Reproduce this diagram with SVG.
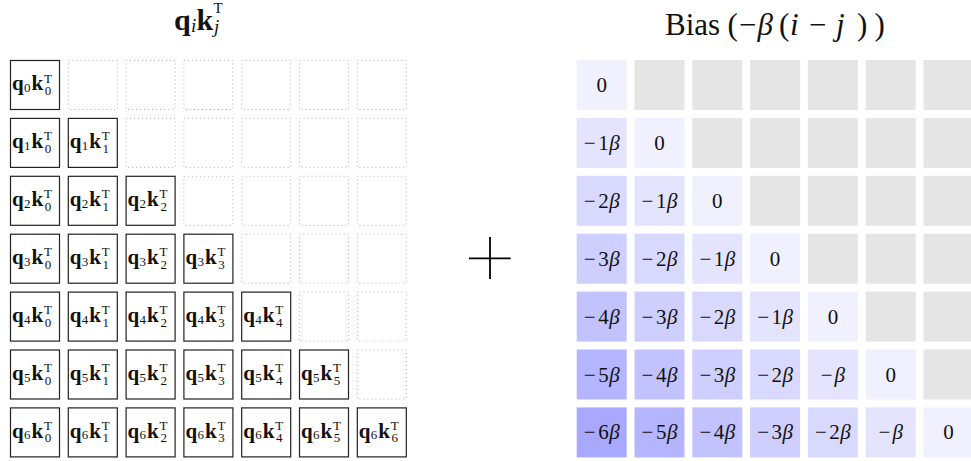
<svg xmlns="http://www.w3.org/2000/svg" width="971" height="461" viewBox="0 0 971 461">
<style>
.solid{fill:#fff;stroke:#222;stroke-width:1.2}
.dot{fill:none;stroke:#b0b0b0;stroke-width:1;stroke-dasharray:1 3}
.qk{font-family:"Liberation Serif",serif;font-weight:bold;font-size:21px;fill:#111}
.sm{font-weight:normal;font-size:13px}
.bt{font-family:"Liberation Serif",serif;font-size:21px;text-anchor:middle;fill:#111}
.it{font-style:italic}
.ttl{font-family:"Liberation Serif",serif;fill:#111}
.g{fill:#e5e5e5}
.c0{fill:#f0f0ff}.c1{fill:#e4e4ff}.c2{fill:#d9d9ff}.c3{fill:#ceceff}.c4{fill:#c2c2ff}.c5{fill:#b5b5ff}.c6{fill:#a8a8ff}
</style>
<g id="title-left">
<text class="ttl"><tspan x="174" y="29.5" font-size="30" font-weight="bold">q</tspan><tspan x="191" y="32" font-size="19" font-style="italic">i</tspan><tspan x="196.5" y="29.5" font-size="30" font-weight="bold">k</tspan><tspan x="213.5" y="13" font-size="15">T</tspan><tspan x="214" y="32.5" font-size="19" font-style="italic">j</tspan></text>
</g>
<g id="title-right">
<text class="ttl" font-size="31"><tspan x="665" y="35">Bias</tspan><tspan x="727.5" y="35">(</tspan><tspan x="739" y="35">−</tspan><tspan x="757.5" y="35" font-style="italic">β</tspan><tspan x="779" y="35">(</tspan><tspan x="790" y="35" font-style="italic">i</tspan><tspan x="809" y="35">−</tspan><tspan x="836" y="35" font-style="italic">j</tspan><tspan x="857" y="35">)</tspan><tspan x="874.5" y="35">)</tspan></text>
</g>
<g id="plus">
<line x1="469" y1="258.3" x2="510.7" y2="258.3" stroke="#000" stroke-width="1.8"/>
<line x1="490" y1="237" x2="490" y2="279" stroke="#000" stroke-width="1.8"/>
</g>
<g id="left-grid">
<g id="qk-0-0" transform="translate(10,60)"><rect class="solid" x="0.5" y="0.5" width="49" height="49"/><text class="qk"><tspan x="2" y="30.3">q</tspan><tspan class="sm" x="14" y="32">0</tspan><tspan x="21.5" y="30.3">k</tspan><tspan class="sm" x="34" y="22.5">T</tspan><tspan class="sm" x="34.8" y="35">0</tspan></text></g>
<g id="qk-0-1" transform="translate(67.8,60)"><rect class="dot" x="0.5" y="0.5" width="49" height="49"/></g>
<g id="qk-0-2" transform="translate(125.6,60)"><rect class="dot" x="0.5" y="0.5" width="49" height="49"/></g>
<g id="qk-0-3" transform="translate(183.4,60)"><rect class="dot" x="0.5" y="0.5" width="49" height="49"/></g>
<g id="qk-0-4" transform="translate(241.2,60)"><rect class="dot" x="0.5" y="0.5" width="49" height="49"/></g>
<g id="qk-0-5" transform="translate(299,60)"><rect class="dot" x="0.5" y="0.5" width="49" height="49"/></g>
<g id="qk-0-6" transform="translate(356.8,60)"><rect class="dot" x="0.5" y="0.5" width="49" height="49"/></g>

<g id="qk-1-0" transform="translate(10,117.9)"><rect class="solid" x="0.5" y="0.5" width="49" height="49"/><text class="qk"><tspan x="2" y="30.3">q</tspan><tspan class="sm" x="14" y="32">1</tspan><tspan x="21.5" y="30.3">k</tspan><tspan class="sm" x="34" y="22.5">T</tspan><tspan class="sm" x="34.8" y="35">0</tspan></text></g>
<g id="qk-1-1" transform="translate(67.8,117.9)"><rect class="solid" x="0.5" y="0.5" width="49" height="49"/><text class="qk"><tspan x="2" y="30.3">q</tspan><tspan class="sm" x="14" y="32">1</tspan><tspan x="21.5" y="30.3">k</tspan><tspan class="sm" x="34" y="22.5">T</tspan><tspan class="sm" x="34.8" y="35">1</tspan></text></g>
<g id="qk-1-2" transform="translate(125.6,117.9)"><rect class="dot" x="0.5" y="0.5" width="49" height="49"/></g>
<g id="qk-1-3" transform="translate(183.4,117.9)"><rect class="dot" x="0.5" y="0.5" width="49" height="49"/></g>
<g id="qk-1-4" transform="translate(241.2,117.9)"><rect class="dot" x="0.5" y="0.5" width="49" height="49"/></g>
<g id="qk-1-5" transform="translate(299,117.9)"><rect class="dot" x="0.5" y="0.5" width="49" height="49"/></g>
<g id="qk-1-6" transform="translate(356.8,117.9)"><rect class="dot" x="0.5" y="0.5" width="49" height="49"/></g>

<g id="qk-2-0" transform="translate(10,175.8)"><rect class="solid" x="0.5" y="0.5" width="49" height="49"/><text class="qk"><tspan x="2" y="30.3">q</tspan><tspan class="sm" x="14" y="32">2</tspan><tspan x="21.5" y="30.3">k</tspan><tspan class="sm" x="34" y="22.5">T</tspan><tspan class="sm" x="34.8" y="35">0</tspan></text></g>
<g id="qk-2-1" transform="translate(67.8,175.8)"><rect class="solid" x="0.5" y="0.5" width="49" height="49"/><text class="qk"><tspan x="2" y="30.3">q</tspan><tspan class="sm" x="14" y="32">2</tspan><tspan x="21.5" y="30.3">k</tspan><tspan class="sm" x="34" y="22.5">T</tspan><tspan class="sm" x="34.8" y="35">1</tspan></text></g>
<g id="qk-2-2" transform="translate(125.6,175.8)"><rect class="solid" x="0.5" y="0.5" width="49" height="49"/><text class="qk"><tspan x="2" y="30.3">q</tspan><tspan class="sm" x="14" y="32">2</tspan><tspan x="21.5" y="30.3">k</tspan><tspan class="sm" x="34" y="22.5">T</tspan><tspan class="sm" x="34.8" y="35">2</tspan></text></g>
<g id="qk-2-3" transform="translate(183.4,175.8)"><rect class="dot" x="0.5" y="0.5" width="49" height="49"/></g>
<g id="qk-2-4" transform="translate(241.2,175.8)"><rect class="dot" x="0.5" y="0.5" width="49" height="49"/></g>
<g id="qk-2-5" transform="translate(299,175.8)"><rect class="dot" x="0.5" y="0.5" width="49" height="49"/></g>
<g id="qk-2-6" transform="translate(356.8,175.8)"><rect class="dot" x="0.5" y="0.5" width="49" height="49"/></g>

<g id="qk-3-0" transform="translate(10,233.7)"><rect class="solid" x="0.5" y="0.5" width="49" height="49"/><text class="qk"><tspan x="2" y="30.3">q</tspan><tspan class="sm" x="14" y="32">3</tspan><tspan x="21.5" y="30.3">k</tspan><tspan class="sm" x="34" y="22.5">T</tspan><tspan class="sm" x="34.8" y="35">0</tspan></text></g>
<g id="qk-3-1" transform="translate(67.8,233.7)"><rect class="solid" x="0.5" y="0.5" width="49" height="49"/><text class="qk"><tspan x="2" y="30.3">q</tspan><tspan class="sm" x="14" y="32">3</tspan><tspan x="21.5" y="30.3">k</tspan><tspan class="sm" x="34" y="22.5">T</tspan><tspan class="sm" x="34.8" y="35">1</tspan></text></g>
<g id="qk-3-2" transform="translate(125.6,233.7)"><rect class="solid" x="0.5" y="0.5" width="49" height="49"/><text class="qk"><tspan x="2" y="30.3">q</tspan><tspan class="sm" x="14" y="32">3</tspan><tspan x="21.5" y="30.3">k</tspan><tspan class="sm" x="34" y="22.5">T</tspan><tspan class="sm" x="34.8" y="35">2</tspan></text></g>
<g id="qk-3-3" transform="translate(183.4,233.7)"><rect class="solid" x="0.5" y="0.5" width="49" height="49"/><text class="qk"><tspan x="2" y="30.3">q</tspan><tspan class="sm" x="14" y="32">3</tspan><tspan x="21.5" y="30.3">k</tspan><tspan class="sm" x="34" y="22.5">T</tspan><tspan class="sm" x="34.8" y="35">3</tspan></text></g>
<g id="qk-3-4" transform="translate(241.2,233.7)"><rect class="dot" x="0.5" y="0.5" width="49" height="49"/></g>
<g id="qk-3-5" transform="translate(299,233.7)"><rect class="dot" x="0.5" y="0.5" width="49" height="49"/></g>
<g id="qk-3-6" transform="translate(356.8,233.7)"><rect class="dot" x="0.5" y="0.5" width="49" height="49"/></g>

<g id="qk-4-0" transform="translate(10,291.6)"><rect class="solid" x="0.5" y="0.5" width="49" height="49"/><text class="qk"><tspan x="2" y="30.3">q</tspan><tspan class="sm" x="14" y="32">4</tspan><tspan x="21.5" y="30.3">k</tspan><tspan class="sm" x="34" y="22.5">T</tspan><tspan class="sm" x="34.8" y="35">0</tspan></text></g>
<g id="qk-4-1" transform="translate(67.8,291.6)"><rect class="solid" x="0.5" y="0.5" width="49" height="49"/><text class="qk"><tspan x="2" y="30.3">q</tspan><tspan class="sm" x="14" y="32">4</tspan><tspan x="21.5" y="30.3">k</tspan><tspan class="sm" x="34" y="22.5">T</tspan><tspan class="sm" x="34.8" y="35">1</tspan></text></g>
<g id="qk-4-2" transform="translate(125.6,291.6)"><rect class="solid" x="0.5" y="0.5" width="49" height="49"/><text class="qk"><tspan x="2" y="30.3">q</tspan><tspan class="sm" x="14" y="32">4</tspan><tspan x="21.5" y="30.3">k</tspan><tspan class="sm" x="34" y="22.5">T</tspan><tspan class="sm" x="34.8" y="35">2</tspan></text></g>
<g id="qk-4-3" transform="translate(183.4,291.6)"><rect class="solid" x="0.5" y="0.5" width="49" height="49"/><text class="qk"><tspan x="2" y="30.3">q</tspan><tspan class="sm" x="14" y="32">4</tspan><tspan x="21.5" y="30.3">k</tspan><tspan class="sm" x="34" y="22.5">T</tspan><tspan class="sm" x="34.8" y="35">3</tspan></text></g>
<g id="qk-4-4" transform="translate(241.2,291.6)"><rect class="solid" x="0.5" y="0.5" width="49" height="49"/><text class="qk"><tspan x="2" y="30.3">q</tspan><tspan class="sm" x="14" y="32">4</tspan><tspan x="21.5" y="30.3">k</tspan><tspan class="sm" x="34" y="22.5">T</tspan><tspan class="sm" x="34.8" y="35">4</tspan></text></g>
<g id="qk-4-5" transform="translate(299,291.6)"><rect class="dot" x="0.5" y="0.5" width="49" height="49"/></g>
<g id="qk-4-6" transform="translate(356.8,291.6)"><rect class="dot" x="0.5" y="0.5" width="49" height="49"/></g>

<g id="qk-5-0" transform="translate(10,349.5)"><rect class="solid" x="0.5" y="0.5" width="49" height="49"/><text class="qk"><tspan x="2" y="30.3">q</tspan><tspan class="sm" x="14" y="32">5</tspan><tspan x="21.5" y="30.3">k</tspan><tspan class="sm" x="34" y="22.5">T</tspan><tspan class="sm" x="34.8" y="35">0</tspan></text></g>
<g id="qk-5-1" transform="translate(67.8,349.5)"><rect class="solid" x="0.5" y="0.5" width="49" height="49"/><text class="qk"><tspan x="2" y="30.3">q</tspan><tspan class="sm" x="14" y="32">5</tspan><tspan x="21.5" y="30.3">k</tspan><tspan class="sm" x="34" y="22.5">T</tspan><tspan class="sm" x="34.8" y="35">1</tspan></text></g>
<g id="qk-5-2" transform="translate(125.6,349.5)"><rect class="solid" x="0.5" y="0.5" width="49" height="49"/><text class="qk"><tspan x="2" y="30.3">q</tspan><tspan class="sm" x="14" y="32">5</tspan><tspan x="21.5" y="30.3">k</tspan><tspan class="sm" x="34" y="22.5">T</tspan><tspan class="sm" x="34.8" y="35">2</tspan></text></g>
<g id="qk-5-3" transform="translate(183.4,349.5)"><rect class="solid" x="0.5" y="0.5" width="49" height="49"/><text class="qk"><tspan x="2" y="30.3">q</tspan><tspan class="sm" x="14" y="32">5</tspan><tspan x="21.5" y="30.3">k</tspan><tspan class="sm" x="34" y="22.5">T</tspan><tspan class="sm" x="34.8" y="35">3</tspan></text></g>
<g id="qk-5-4" transform="translate(241.2,349.5)"><rect class="solid" x="0.5" y="0.5" width="49" height="49"/><text class="qk"><tspan x="2" y="30.3">q</tspan><tspan class="sm" x="14" y="32">5</tspan><tspan x="21.5" y="30.3">k</tspan><tspan class="sm" x="34" y="22.5">T</tspan><tspan class="sm" x="34.8" y="35">4</tspan></text></g>
<g id="qk-5-5" transform="translate(299,349.5)"><rect class="solid" x="0.5" y="0.5" width="49" height="49"/><text class="qk"><tspan x="2" y="30.3">q</tspan><tspan class="sm" x="14" y="32">5</tspan><tspan x="21.5" y="30.3">k</tspan><tspan class="sm" x="34" y="22.5">T</tspan><tspan class="sm" x="34.8" y="35">5</tspan></text></g>
<g id="qk-5-6" transform="translate(356.8,349.5)"><rect class="dot" x="0.5" y="0.5" width="49" height="49"/></g>

<g id="qk-6-0" transform="translate(10,407.4)"><rect class="solid" x="0.5" y="0.5" width="49" height="49"/><text class="qk"><tspan x="2" y="30.3">q</tspan><tspan class="sm" x="14" y="32">6</tspan><tspan x="21.5" y="30.3">k</tspan><tspan class="sm" x="34" y="22.5">T</tspan><tspan class="sm" x="34.8" y="35">0</tspan></text></g>
<g id="qk-6-1" transform="translate(67.8,407.4)"><rect class="solid" x="0.5" y="0.5" width="49" height="49"/><text class="qk"><tspan x="2" y="30.3">q</tspan><tspan class="sm" x="14" y="32">6</tspan><tspan x="21.5" y="30.3">k</tspan><tspan class="sm" x="34" y="22.5">T</tspan><tspan class="sm" x="34.8" y="35">1</tspan></text></g>
<g id="qk-6-2" transform="translate(125.6,407.4)"><rect class="solid" x="0.5" y="0.5" width="49" height="49"/><text class="qk"><tspan x="2" y="30.3">q</tspan><tspan class="sm" x="14" y="32">6</tspan><tspan x="21.5" y="30.3">k</tspan><tspan class="sm" x="34" y="22.5">T</tspan><tspan class="sm" x="34.8" y="35">2</tspan></text></g>
<g id="qk-6-3" transform="translate(183.4,407.4)"><rect class="solid" x="0.5" y="0.5" width="49" height="49"/><text class="qk"><tspan x="2" y="30.3">q</tspan><tspan class="sm" x="14" y="32">6</tspan><tspan x="21.5" y="30.3">k</tspan><tspan class="sm" x="34" y="22.5">T</tspan><tspan class="sm" x="34.8" y="35">3</tspan></text></g>
<g id="qk-6-4" transform="translate(241.2,407.4)"><rect class="solid" x="0.5" y="0.5" width="49" height="49"/><text class="qk"><tspan x="2" y="30.3">q</tspan><tspan class="sm" x="14" y="32">6</tspan><tspan x="21.5" y="30.3">k</tspan><tspan class="sm" x="34" y="22.5">T</tspan><tspan class="sm" x="34.8" y="35">4</tspan></text></g>
<g id="qk-6-5" transform="translate(299,407.4)"><rect class="solid" x="0.5" y="0.5" width="49" height="49"/><text class="qk"><tspan x="2" y="30.3">q</tspan><tspan class="sm" x="14" y="32">6</tspan><tspan x="21.5" y="30.3">k</tspan><tspan class="sm" x="34" y="22.5">T</tspan><tspan class="sm" x="34.8" y="35">5</tspan></text></g>
<g id="qk-6-6" transform="translate(356.8,407.4)"><rect class="solid" x="0.5" y="0.5" width="49" height="49"/><text class="qk"><tspan x="2" y="30.3">q</tspan><tspan class="sm" x="14" y="32">6</tspan><tspan x="21.5" y="30.3">k</tspan><tspan class="sm" x="34" y="22.5">T</tspan><tspan class="sm" x="34.8" y="35">6</tspan></text></g>
</g>

<g id="right-grid">
<g id="b-0-0" transform="translate(576.7,60)"><rect class="c0" width="50" height="50"/><text class="bt" x="25" y="32">0</text></g>
<g id="b-0-1" transform="translate(634.5,60)"><rect class="g" width="50" height="50"/></g>
<g id="b-0-2" transform="translate(692.3,60)"><rect class="g" width="50" height="50"/></g>
<g id="b-0-3" transform="translate(750.1,60)"><rect class="g" width="50" height="50"/></g>
<g id="b-0-4" transform="translate(807.9,60)"><rect class="g" width="50" height="50"/></g>
<g id="b-0-5" transform="translate(865.7,60)"><rect class="g" width="50" height="50"/></g>
<g id="b-0-6" transform="translate(923.5,60)"><rect class="g" width="50" height="50"/></g>

<g id="b-1-0" transform="translate(576.7,117.9)"><rect class="c1" width="50" height="50"/><text class="bt" x="25" y="32">−<tspan dx="2.5">1</tspan><tspan class="it" dx="0.5">β</tspan></text></g>
<g id="b-1-1" transform="translate(634.5,117.9)"><rect class="c0" width="50" height="50"/><text class="bt" x="25" y="32">0</text></g>
<g id="b-1-2" transform="translate(692.3,117.9)"><rect class="g" width="50" height="50"/></g>
<g id="b-1-3" transform="translate(750.1,117.9)"><rect class="g" width="50" height="50"/></g>
<g id="b-1-4" transform="translate(807.9,117.9)"><rect class="g" width="50" height="50"/></g>
<g id="b-1-5" transform="translate(865.7,117.9)"><rect class="g" width="50" height="50"/></g>
<g id="b-1-6" transform="translate(923.5,117.9)"><rect class="g" width="50" height="50"/></g>

<g id="b-2-0" transform="translate(576.7,175.8)"><rect class="c2" width="50" height="50"/><text class="bt" x="25" y="32">−<tspan dx="2.5">2</tspan><tspan class="it" dx="0.5">β</tspan></text></g>
<g id="b-2-1" transform="translate(634.5,175.8)"><rect class="c1" width="50" height="50"/><text class="bt" x="25" y="32">−<tspan dx="2.5">1</tspan><tspan class="it" dx="0.5">β</tspan></text></g>
<g id="b-2-2" transform="translate(692.3,175.8)"><rect class="c0" width="50" height="50"/><text class="bt" x="25" y="32">0</text></g>
<g id="b-2-3" transform="translate(750.1,175.8)"><rect class="g" width="50" height="50"/></g>
<g id="b-2-4" transform="translate(807.9,175.8)"><rect class="g" width="50" height="50"/></g>
<g id="b-2-5" transform="translate(865.7,175.8)"><rect class="g" width="50" height="50"/></g>
<g id="b-2-6" transform="translate(923.5,175.8)"><rect class="g" width="50" height="50"/></g>

<g id="b-3-0" transform="translate(576.7,233.7)"><rect class="c3" width="50" height="50"/><text class="bt" x="25" y="32">−<tspan dx="2.5">3</tspan><tspan class="it" dx="0.5">β</tspan></text></g>
<g id="b-3-1" transform="translate(634.5,233.7)"><rect class="c2" width="50" height="50"/><text class="bt" x="25" y="32">−<tspan dx="2.5">2</tspan><tspan class="it" dx="0.5">β</tspan></text></g>
<g id="b-3-2" transform="translate(692.3,233.7)"><rect class="c1" width="50" height="50"/><text class="bt" x="25" y="32">−<tspan dx="2.5">1</tspan><tspan class="it" dx="0.5">β</tspan></text></g>
<g id="b-3-3" transform="translate(750.1,233.7)"><rect class="c0" width="50" height="50"/><text class="bt" x="25" y="32">0</text></g>
<g id="b-3-4" transform="translate(807.9,233.7)"><rect class="g" width="50" height="50"/></g>
<g id="b-3-5" transform="translate(865.7,233.7)"><rect class="g" width="50" height="50"/></g>
<g id="b-3-6" transform="translate(923.5,233.7)"><rect class="g" width="50" height="50"/></g>

<g id="b-4-0" transform="translate(576.7,291.6)"><rect class="c4" width="50" height="50"/><text class="bt" x="25" y="32">−<tspan dx="2.5">4</tspan><tspan class="it" dx="0.5">β</tspan></text></g>
<g id="b-4-1" transform="translate(634.5,291.6)"><rect class="c3" width="50" height="50"/><text class="bt" x="25" y="32">−<tspan dx="2.5">3</tspan><tspan class="it" dx="0.5">β</tspan></text></g>
<g id="b-4-2" transform="translate(692.3,291.6)"><rect class="c2" width="50" height="50"/><text class="bt" x="25" y="32">−<tspan dx="2.5">2</tspan><tspan class="it" dx="0.5">β</tspan></text></g>
<g id="b-4-3" transform="translate(750.1,291.6)"><rect class="c1" width="50" height="50"/><text class="bt" x="25" y="32">−<tspan dx="2.5">1</tspan><tspan class="it" dx="0.5">β</tspan></text></g>
<g id="b-4-4" transform="translate(807.9,291.6)"><rect class="c0" width="50" height="50"/><text class="bt" x="25" y="32">0</text></g>
<g id="b-4-5" transform="translate(865.7,291.6)"><rect class="g" width="50" height="50"/></g>
<g id="b-4-6" transform="translate(923.5,291.6)"><rect class="g" width="50" height="50"/></g>

<g id="b-5-0" transform="translate(576.7,349.5)"><rect class="c5" width="50" height="50"/><text class="bt" x="25" y="32">−<tspan dx="2.5">5</tspan><tspan class="it" dx="0.5">β</tspan></text></g>
<g id="b-5-1" transform="translate(634.5,349.5)"><rect class="c4" width="50" height="50"/><text class="bt" x="25" y="32">−<tspan dx="2.5">4</tspan><tspan class="it" dx="0.5">β</tspan></text></g>
<g id="b-5-2" transform="translate(692.3,349.5)"><rect class="c3" width="50" height="50"/><text class="bt" x="25" y="32">−<tspan dx="2.5">3</tspan><tspan class="it" dx="0.5">β</tspan></text></g>
<g id="b-5-3" transform="translate(750.1,349.5)"><rect class="c2" width="50" height="50"/><text class="bt" x="25" y="32">−<tspan dx="2.5">2</tspan><tspan class="it" dx="0.5">β</tspan></text></g>
<g id="b-5-4" transform="translate(807.9,349.5)"><rect class="c1" width="50" height="50"/><text class="bt" x="25" y="32">−<tspan dx="2" class="it">β</tspan></text></g>
<g id="b-5-5" transform="translate(865.7,349.5)"><rect class="c0" width="50" height="50"/><text class="bt" x="25" y="32">0</text></g>
<g id="b-5-6" transform="translate(923.5,349.5)"><rect class="g" width="50" height="50"/></g>

<g id="b-6-0" transform="translate(576.7,407.4)"><rect class="c6" width="50" height="50"/><text class="bt" x="25" y="32">−<tspan dx="2.5">6</tspan><tspan class="it" dx="0.5">β</tspan></text></g>
<g id="b-6-1" transform="translate(634.5,407.4)"><rect class="c5" width="50" height="50"/><text class="bt" x="25" y="32">−<tspan dx="2.5">5</tspan><tspan class="it" dx="0.5">β</tspan></text></g>
<g id="b-6-2" transform="translate(692.3,407.4)"><rect class="c4" width="50" height="50"/><text class="bt" x="25" y="32">−<tspan dx="2.5">4</tspan><tspan class="it" dx="0.5">β</tspan></text></g>
<g id="b-6-3" transform="translate(750.1,407.4)"><rect class="c3" width="50" height="50"/><text class="bt" x="25" y="32">−<tspan dx="2.5">3</tspan><tspan class="it" dx="0.5">β</tspan></text></g>
<g id="b-6-4" transform="translate(807.9,407.4)"><rect class="c2" width="50" height="50"/><text class="bt" x="25" y="32">−<tspan dx="2.5">2</tspan><tspan class="it" dx="0.5">β</tspan></text></g>
<g id="b-6-5" transform="translate(865.7,407.4)"><rect class="c1" width="50" height="50"/><text class="bt" x="25" y="32">−<tspan dx="2" class="it">β</tspan></text></g>
<g id="b-6-6" transform="translate(923.5,407.4)"><rect class="c0" width="50" height="50"/><text class="bt" x="25" y="32">0</text></g>
</g>
</svg>
